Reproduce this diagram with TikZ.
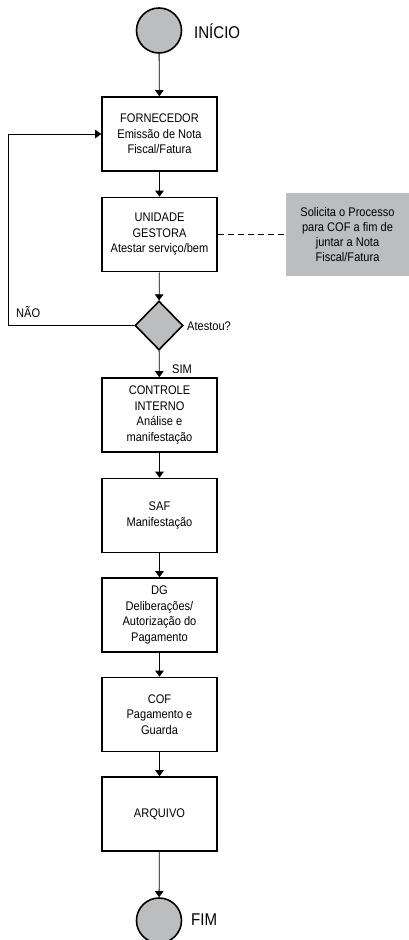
\documentclass[tikz,border=0pt]{standalone}
\usepackage{fontspec}
\setmainfont{Liberation Sans}[FakeStretch=0.885]
\usetikzlibrary{arrows.meta,shapes.geometric}
\definecolor{fillgray}{RGB}{188,189,191}
\tikzset{
  box/.style={draw, line width=1.6pt, fill=white, minimum width=115pt, minimum height=74pt,
    inner sep=0pt, align=center, font=\fontsize{12.5}{15.5}\selectfont},
  note/.style={fill=fillgray, minimum width=123pt, minimum height=83pt, inner sep=0pt,
    align=center, font=\fontsize{12.5}{15}\selectfont},
  terminal/.style={circle, draw, line width=1.6pt, fill=fillgray, minimum size=45pt, inner sep=0pt},
  decision/.style={diamond, draw, line width=1.6pt, fill=fillgray, minimum width=48pt,
    minimum height=49pt, inner sep=0pt},
  label/.style={font=\fontsize{12.5}{14}\selectfont, inner sep=0pt},
  biglabel/.style={font=\fontsize{17}{20}\selectfont, inner sep=0pt},
  arr/.style={line width=0.8pt, -{Triangle[width=8.5pt,length=6pt]}},
}
\begin{document}
\begin{tikzpicture}[x=1pt,y=-1pt]
\useasboundingbox (0,0) rectangle (409,940);

% start and end
\node[terminal] (start) at (159,30.5) {};
\node[biglabel, anchor=west] (startlbl) at (194,31) {INÍCIO};

% process steps
\node[box] (forn) at (159.5,134) {FORNECEDOR\\Emissão de Nota\\Fiscal/Fatura};
\node[box] (ug) at (159.5,234.5) {UNIDADE\\GESTORA\\Atestar serviço/bem};
\node[note] (nota) at (347.5,234.5) {Solicita o Processo\\para COF a fim de\\juntar a Nota\\Fiscal/Fatura};
\node[decision] (dec) at (159,325.5) {};
\node[label, anchor=west] (declbl) at (187,326) {Atestou?};
\node[box] (ci) at (159.5,415) {CONTROLE\\INTERNO\\Análise e\\manifestação};
\node[box] (saf) at (159.5,515.5) {SAF\\Manifestação};
\node[box] (dg) at (159.5,615) {DG\\Deliberações/\\Autorização do\\Pagamento};
\node[box] (cof) at (159.5,714.5) {COF\\Pagamento e\\Guarda};
\node[box] (arq) at (159.5,814) {ARQUIVO};
\node[terminal] (fim) at (159,920.5) {};
\node[biglabel, anchor=west] (fimlbl) at (191,920) {FIM};

% branch labels
\node[label, anchor=west] (nao) at (16,312) {NÃO};
\node[label, anchor=west] (sim) at (172,369) {SIM};

% connectors
\draw[arr] (start) -- (forn);
\draw[arr] (forn) -- (ug);
\draw[arr] (ug) -- (dec);
\draw[arr] (dec) -- (ci);
\draw[arr] (ci) -- (saf);
\draw[arr] (saf) -- (dg);
\draw[arr] (dg) -- (cof);
\draw[arr] (cof) -- (arq);
\draw[arr] (arq) -- (fim);
\coordinate (loop) at (8.5,325.5);
\draw[arr] (dec.west) -- (loop) |- (forn.west);
\draw[line width=0.8pt, dash pattern=on 6pt off 4pt] (ug.east) -- (nota.west);
\end{tikzpicture}
\end{document}
